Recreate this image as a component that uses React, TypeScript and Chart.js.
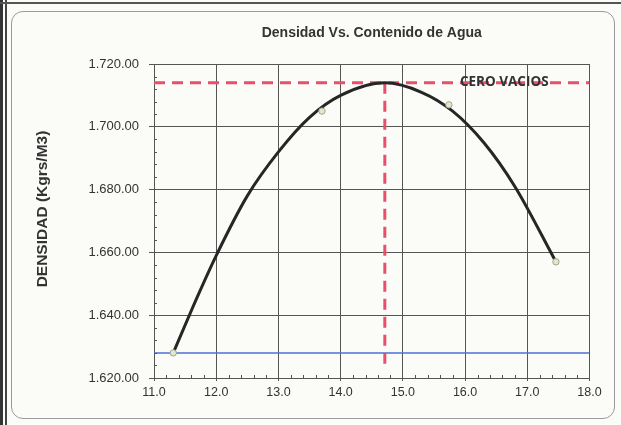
import React, { useEffect, useRef } from "react";
import { Chart, registerables } from "chart.js";

Chart.register(...registerables);

// Measured points (humedad %, densidad kg/m3)
const pointX = [11.31, 13.7, 15.74, 17.46];
const pointY = [1628, 1705, 1707, 1657];

// Fitted curve
const curveX = [11.31, 11.7, 12.0, 12.5, 13.0, 13.5, 14.0, 14.71, 15.3, 15.8, 16.3, 16.8, 17.46];
const curveY = [1628, 1646, 1659, 1678, 1692, 1703, 1710, 1714, 1711, 1705, 1695, 1681, 1657];

// Optimum (maximum density / optimum moisture)
const optimumX = 14.71;
const optimumY = 1714;
const optimumBottomY = 1623;

// Blue reference line
const blueY = 1628;

// Axis ranges
const xMin = 11;
const xMax = 18;
const xStep = 1;
const xMinorStep = 0.2;
const yMin = 1620;
const yMax = 1720;
const yStep = 20;
const yMinorStep = 4;

const titleText = "Densidad Vs. Contenido de Agua";
const yAxisTitle = "DENSIDAD (Kgrs/M3)";
const annotationText = "CERO VACIOS";
const annotationX = 16.63;
const annotationY = 1714;

function fmtY(v: number): string {
  const s = Math.round(v).toString();
  return s[0] + "." + s.slice(1) + ".00";
}

export default function App() {
  const ref = useRef<HTMLCanvasElement | null>(null);

  useEffect(() => {
    if (!ref.current) return;

    const decor = {
      id: "decor",
      afterDraw(chart: any) {
        const ctx = chart.ctx;
        const area = chart.chartArea;
        const xs = chart.scales.x;
        const ys = chart.scales.y;
        ctx.save();
        // minor ticks
        ctx.strokeStyle = "#555";
        ctx.lineWidth = 1;
        ctx.beginPath();
        const nx = Math.round((xMax - xMin) / xMinorStep);
        for (let i = 0; i <= nx; i++) {
          if (i % 5 === 0) continue;
          const px = Math.round(xs.getPixelForValue(xMin + i * xMinorStep)) + 0.5;
          ctx.moveTo(px, area.bottom);
          ctx.lineTo(px, area.bottom - 3);
        }
        const ny = Math.round((yMax - yMin) / yMinorStep);
        for (let i = 0; i <= ny; i++) {
          if (i % 5 === 0) continue;
          const py = Math.round(ys.getPixelForValue(yMin + i * yMinorStep)) + 0.5;
          ctx.moveTo(area.left, py);
          ctx.lineTo(area.left + 3, py);
        }
        ctx.stroke();
        // title
        ctx.fillStyle = "#333";
        ctx.font = 'bold 14px "Liberation Sans", Arial, sans-serif';
        ctx.textAlign = "center";
        ctx.textBaseline = "middle";
        ctx.fillText(titleText, (area.left + area.right) / 2, 33);
        // y axis title
        ctx.save();
        ctx.translate(43, 209);
        ctx.rotate(-Math.PI / 2);
        ctx.font = 'bold 15.5px "Liberation Sans", Arial, sans-serif';
        ctx.fillText(yAxisTitle, 0, 0);
        ctx.restore();
        // annotation
        ctx.fillStyle = "#333";
        ctx.font = 'bold 13.5px "Open Sans", "Noto Sans", sans-serif';
        ctx.fillText(annotationText, xs.getPixelForValue(annotationX), ys.getPixelForValue(annotationY) - 1);
        ctx.restore();
      },
    };

    const chart = new Chart(ref.current, {
      type: "scatter",
      data: {
        datasets: [
          {
            data: pointX.map((x, i) => ({ x, y: pointY[i] })),
            showLine: false,
            pointRadius: 3.2,
            pointBackgroundColor: "#e3e6cf",
            pointBorderColor: "#a0a58a",
            pointBorderWidth: 1,
          },
          {
            data: curveX.map((x, i) => ({ x, y: curveY[i] })),
            showLine: true,
            borderColor: "#262626",
            borderWidth: 3,
            pointRadius: 0,
            cubicInterpolationMode: "monotone",
          },
          {
            data: [
              { x: xMin, y: optimumY },
              { x: xMax, y: optimumY },
            ],
            showLine: true,
            borderColor: "#e8506a",
            borderWidth: 3,
            borderDash: [11, 7],
            pointRadius: 0,
          },
          {
            data: [
              { x: optimumX, y: optimumY },
              { x: optimumX, y: optimumBottomY },
            ],
            showLine: true,
            borderColor: "#e8506a",
            borderWidth: 3,
            borderDash: [11, 7],
            pointRadius: 0,
          },
          {
            data: [
              { x: xMin, y: blueY },
              { x: xMax, y: blueY },
            ],
            showLine: true,
            borderColor: "#4a6fd8",
            borderWidth: 1.5,
            pointRadius: 0,
          },
        ],
      },
      options: {
        animation: false,
        responsive: false,
        layout: { padding: { left: 16, top: 64, right: 31.5, bottom: 0 } },
        plugins: {
          legend: { display: false },
          tooltip: { enabled: false },
          title: { display: false },
        },
        scales: {
          x: {
            type: "linear",
            min: xMin,
            max: xMax,
            afterFit: (s: any) => {
              s.height = 47;
            },
            ticks: {
              stepSize: xStep,
              color: "#333",
              font: { family: '"Liberation Sans", Arial, sans-serif', size: 12.5 },
              padding: 4,
              maxRotation: 0,
              callback: (v: any) => Number(v).toFixed(1),
            },
            grid: { color: "#555", lineWidth: 1, tickLength: 3, tickColor: "#555" },
            border: { color: "#555", width: 1 },
          },
          y: {
            type: "linear",
            min: yMin,
            max: yMax,
            afterFit: (s: any) => {
              s.width = 138;
            },
            ticks: {
              stepSize: yStep,
              color: "#333",
              font: { family: '"Liberation Sans", Arial, sans-serif', size: 13 },
              padding: 10,
              callback: (v: any) => fmtY(Number(v)),
            },
            grid: { color: "#555", lineWidth: 1, tickLength: 5, tickColor: "#555" },
            border: { color: "#555", width: 1 },
          },
        },
      },
      plugins: [decor],
    } as any);

    return () => chart.destroy();
  }, []);

  return (
    <div
      style={{
        position: "fixed",
        left: 0,
        top: 0,
        width: 621,
        height: 425,
        background: "#fbfbf8",
        overflow: "hidden",
      }}
    >
      <div style={{ position: "absolute", left: 0, top: 0, width: 3, height: 425, background: "#333" }} />
      <div style={{ position: "absolute", left: 5, top: 0, width: 2, height: 425, background: "#444" }} />
      <div style={{ position: "absolute", left: 0, top: 2, width: 621, height: 2, background: "#555" }} />
      <div
        style={{
          position: "absolute",
          left: 11,
          top: 11,
          width: 604,
          height: 408,
          border: "1px solid #9a9a9a",
          borderRadius: 12,
          boxSizing: "border-box",
        }}
      />
      <canvas
        ref={ref}
        width={621}
        height={425}
        style={{ position: "absolute", left: 0, top: 0, width: 621, height: 425 }}
      />
    </div>
  );
}
